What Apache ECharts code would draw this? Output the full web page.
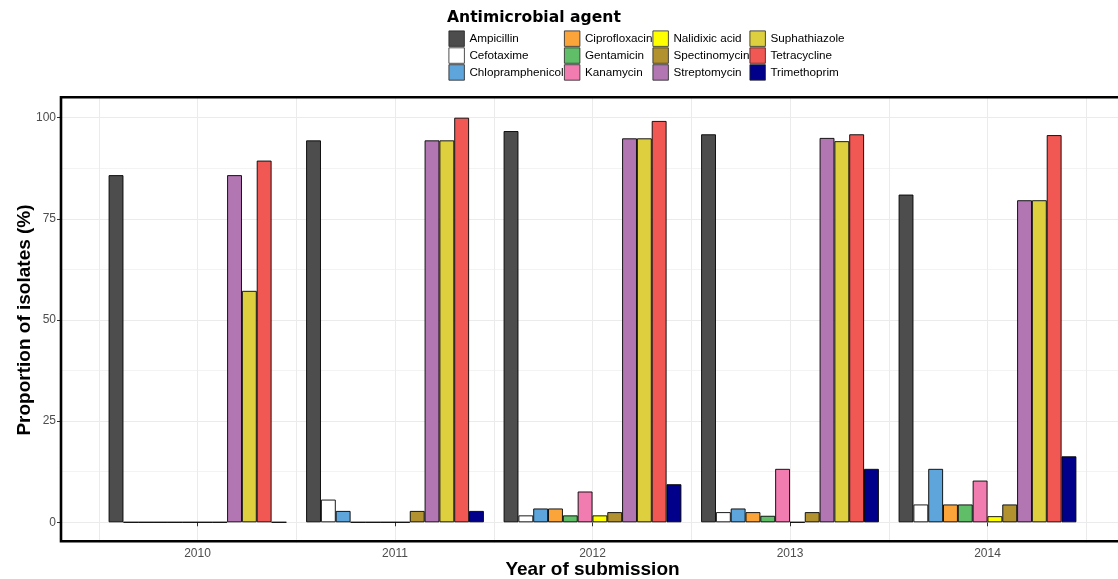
<!DOCTYPE html>
<html>
<head>
<meta charset="utf-8">
<script src="https://cdn.jsdelivr.net/npm/echarts@6/dist/echarts.min.js"></script>
<style>
  html, body { margin: 0; padding: 0; background: #fff; }
  #chart { width: 1118px; height: 579px; }
</style>
</head>
<body>
<div id="chart"></div>
<script>
// Years on the x axis
const years = ['2010', '2011', '2012', '2013', '2014'];

// Proportion of resistant isolates (%) per antimicrobial agent, by year
const ampicillin      = [85.8, 94.4, 96.7, 95.9, 81.0];
const cefotaxime      = [0, 5.6, 1.7, 2.5, 4.4];
const chlopramphenicol = [0, 2.8, 3.4, 3.4, 13.2];
const ciprofloxacin   = [0, 0, 3.4, 2.5, 4.4];
const gentamicin      = [0, 0, 1.7, 1.6, 4.4];
const kanamycin       = [0, 0, 7.6, 13.2, 10.3];
const nalidixicAcid   = [0, 0, 1.7, 0, 1.5];
const spectinomycin   = [0, 2.8, 2.5, 2.5, 4.4];
const streptomycin    = [85.8, 94.4, 94.9, 95.0, 79.6];
const suphathiazole   = [57.2, 94.4, 94.9, 94.2, 79.6];
const tetracycline    = [89.4, 100, 99.2, 95.9, 95.7];
const trimethoprim    = [0, 2.8, 9.4, 13.2, 16.3];

const agents = [
  'Ampicillin', 'Cefotaxime', 'Chlopramphenicol', 'Ciprofloxacin',
  'Gentamicin', 'Kanamycin', 'Nalidixic acid', 'Spectinomycin',
  'Streptomycin', 'Suphathiazole', 'Tetracycline', 'Trimethoprim'
];
const agentValues = [
  ampicillin, cefotaxime, chlopramphenicol, ciprofloxacin,
  gentamicin, kanamycin, nalidixicAcid, spectinomycin,
  streptomycin, suphathiazole, tetracycline, trimethoprim
];
const agentColors = [
  '#4D4D4D', '#FFFFFF', '#5DA5DA', '#FAA43A',
  '#60BD68', '#F17CB0', '#FFFF00', '#B2912F',
  '#B276B2', '#DECF3F', '#F15854', '#00008B'
];

const FONT = 'Liberation Sans, Arial, sans-serif';
const gridColor = '#ebebeb';

// Panel geometry
const panelLeft = 61, panelTop = 97.5, panelHeight = 445;
const barsLeft = 98.75, barsWidth = 987.5;
// pixels per percentage point over the -5..105 panel range
const unit = panelHeight / 110;

const series = agents.map((name, i) => ({
  type: 'bar',
  name: name,
  xAxisIndex: 1,
  yAxisIndex: 1,
  data: agentValues[i],
  barGap: '0%',
  barCategoryGap: '10%',
  itemStyle: { color: agentColors[i], borderColor: '#000', borderWidth: 0.9 },
  emphasis: { disabled: true }
}));

// Legend laid out in four columns of three
const legendCols = [448.5, 564, 652.5, 749.5];
const legends = legendCols.map((x, c) => ({
  orient: 'vertical',
  left: x,
  top: 30.5,
  padding: 0,
  itemWidth: 15.5,
  itemHeight: 15.5,
  itemGap: 0.6,
  selectedMode: false,
  icon: 'rect',
  itemStyle: { borderColor: '#222', borderWidth: 0.8 },
  data: agents.slice(c * 3, c * 3 + 3),
  textStyle: { fontFamily: FONT, fontSize: 11.7, color: '#000', lineHeight: 13 }
}));

const option = {
  animation: false,
  backgroundColor: '#fff',
  title: {
    text: 'Antimicrobial agent',
    left: 447,
    top: 10,
    padding: 0,
    textStyle: { fontFamily: 'DejaVu Sans', fontWeight: 'bold', fontSize: 15.6, color: '#000' }
  },
  legend: legends,
  grid: [
    // full panel: horizontal grid lines and y labels
    { left: panelLeft, right: 0, top: panelTop + 5 * unit, height: 100 * unit, outerBoundsMode: 'none' },
    // bar area
    { left: barsLeft, width: barsWidth, top: panelTop, height: panelHeight, outerBoundsMode: 'none' }
  ],
  xAxis: [
    { gridIndex: 0, type: 'value', min: 0, max: 1, show: false },
    {
      gridIndex: 1,
      type: 'category',
      data: years,
      position: 'bottom',
      axisLine: { show: false },
      axisTick: { show: true, alignWithLabel: true, length: 4, lineStyle: { color: '#333', width: 1 } },
      axisLabel: { color: '#4d4d4d', fontFamily: FONT, fontSize: 12, margin: 5 },
      splitLine: { show: false },
      name: 'Year of submission',
      nameLocation: 'middle',
      nameGap: 18,
      nameMoveOverlap: false,
      nameTextStyle: { fontFamily: FONT, fontWeight: 'bold', fontSize: 19, color: '#000', verticalAlign: 'top' }
    },
    {
      // vertical grid lines at group centres and between groups
      gridIndex: 1,
      type: 'value',
      min: 0,
      max: 10,
      interval: 1,
      position: 'top',
      axisLine: { show: false },
      axisTick: { show: false },
      axisLabel: { show: false },
      splitLine: { show: true, lineStyle: { color: gridColor, width: 1 } }
    }
  ],
  yAxis: [
    {
      gridIndex: 0,
      type: 'value',
      min: 0,
      max: 100,
      interval: 25,
      axisLine: { show: false },
      axisTick: { show: true, length: 4, lineStyle: { color: '#333', width: 1 } },
      axisLabel: { color: '#4d4d4d', fontFamily: FONT, fontSize: 12, margin: 5 },
      splitLine: { show: true, lineStyle: { color: gridColor, width: 1.1 } },
      minorTick: { show: false, splitNumber: 2 },
      minorSplitLine: { show: true, lineStyle: { color: gridColor, width: 0.6 } },
      name: 'Proportion of isolates (%)',
      nameLocation: 'middle',
      nameGap: 27,
      nameMoveOverlap: false,
      nameTextStyle: { fontFamily: FONT, fontWeight: 'bold', fontSize: 19, color: '#000' }
    },
    {
      gridIndex: 1,
      type: 'value',
      min: -5,
      max: 105,
      show: false,
      splitLine: { show: false }
    }
  ],
  graphic: [
    {
      type: 'rect',
      z: 100,
      silent: true,
      shape: { x: panelLeft, y: 97.3, width: 1080, height: 444 },
      style: { fill: 'none', stroke: '#000', lineWidth: 2.6 }
    }
  ],
  series: series
};

const chart = echarts.init(document.getElementById('chart'), null, { renderer: 'canvas' });
chart.setOption(option);
</script>
</body>
</html>
